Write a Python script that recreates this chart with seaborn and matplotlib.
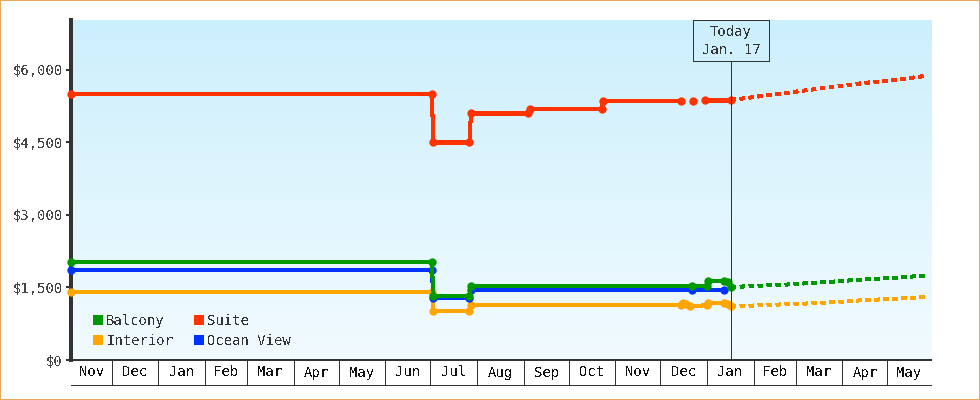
import matplotlib
matplotlib.use("Agg")
import numpy as np
import pandas as pd
import matplotlib.pyplot as plt
import matplotlib.dates as mdates
from matplotlib.patches import Rectangle, Patch
from matplotlib.colors import LinearSegmentedColormap
import seaborn as sns

# ---------------- data ----------------
cabin_colors = {
    "Balcony": "#009900",
    "Suite": "#ff3300",
    "Interior": "#ffa500",
    "Ocean View": "#0033ff",
}
draw_order = ["Interior", "Ocean View", "Balcony", "Suite"]
legend_order = ["Balcony", "Interior", "Suite", "Ocean View"]

suite_dates = ["2021-11-04", "2022-07-02", "2022-07-03", "2022-07-27", "2022-07-28",
               "2022-09-04", "2022-09-05", "2022-10-23", "2022-10-24", "2022-12-15",
               "2022-12-23", "2022-12-31", "2023-01-17"]
suite_prices = [5510, 5510, 4500, 4500, 5100, 5100, 5190, 5190, 5360, 5365,
                5365, 5380, 5380]
suite_runs = [0, 0, 0, 0, 0, 0, 0, 0, 0, 0, 1, 2, 2]

balcony_dates = ["2021-11-04", "2022-07-02", "2022-07-03", "2022-07-27", "2022-07-28",
                 "2022-12-22", "2023-01-01", "2023-01-02", "2023-01-12", "2023-01-15",
                 "2023-01-17"]
balcony_prices = [2020, 2020, 1330, 1330, 1530, 1530, 1530, 1640, 1640, 1610, 1510]

ocean_dates = ["2021-11-04", "2022-07-02", "2022-07-03", "2022-07-27", "2022-07-28",
               "2022-12-22", "2023-01-12"]
ocean_prices = [1860, 1860, 1280, 1280, 1450, 1440, 1440]

interior_dates = ["2021-11-04", "2022-07-02", "2022-07-03", "2022-07-27", "2022-07-28",
                  "2022-12-15", "2022-12-16", "2022-12-18", "2022-12-21", "2023-01-01",
                  "2023-01-02", "2023-01-12", "2023-01-15", "2023-01-17"]
interior_prices = [1400, 1400, 1020, 1020, 1130, 1130, 1175, 1160, 1110, 1135,
                   1170, 1170, 1160, 1110]

forecast_dates = ["2023-01-17", "2023-02-20", "2023-03-18", "2023-04-14",
                  "2023-05-11", "2023-05-27"]
suite_forecast = [5380, 5515, 5620, 5725, 5815, 5880]
balcony_forecast = [1510, 1555, 1605, 1665, 1710, 1750]
interior_forecast = [1110, 1150, 1180, 1235, 1275, 1300]

y_ticks = [0, 1500, 3000, 4500, 6000]
today = "2023-01-17"
today_label = "Today\nJan. 17"
x_start, x_end = "2021-11-04", "2023-05-30"


def frame(name, dates, prices, runs=None):
    return pd.DataFrame({
        "date": pd.to_datetime(dates),
        "price": prices,
        "cabin": name,
        "run": runs if runs is not None else [0] * len(dates),
    })


history = pd.concat([
    frame("Suite", suite_dates, suite_prices, suite_runs),
    frame("Balcony", balcony_dates, balcony_prices),
    frame("Ocean View", ocean_dates, ocean_prices),
    frame("Interior", interior_dates, interior_prices),
], ignore_index=True)

forecast = pd.concat([
    frame("Suite", forecast_dates, suite_forecast),
    frame("Balcony", forecast_dates, balcony_forecast),
    frame("Interior", forecast_dates, interior_forecast),
], ignore_index=True)

# ---------------- style ----------------
sns.set_style("ticks")
plt.rcParams["font.family"] = ["DejaVu Sans Mono", "DejaVu Sans"]
plt.rcParams["text.antialiased"] = False
plt.rcParams["lines.antialiased"] = False
plt.rcParams["patch.antialiased"] = False

W, H = 980, 400
PX = 0.72  # one pixel in points
fig = plt.figure(figsize=(W / 100, H / 100), dpi=100, facecolor="white")
L, R, T, B = 71, 931, 20, 360
ax = fig.add_axes([L / W, 1 - B / H, (R - L) / W, (B - T) / H])
strip = fig.add_axes([L / W, 1 - 385 / H, (R - L) / W, 25 / H], sharex=ax)

xmin, xmax = pd.Timestamp(x_start), pd.Timestamp(x_end)
ymax = 7034

# price history (solid, with markers)
sns.lineplot(data=history, x="date", y="price", hue="cabin", units="run",
             estimator=None, hue_order=draw_order, palette=cabin_colors,
             marker="o", markersize=6, markeredgewidth=0, linewidth=2.2,
             legend=False, ax=ax, zorder=3, clip_on=False)

# forecast (dashed)
sns.lineplot(data=forecast, x="date", y="price", hue="cabin", units="run",
             estimator=None, hue_order=draw_order, palette=cabin_colors,
             linewidth=2.2, linestyle=(0, (1.6, 1.6)), legend=False, ax=ax,
             zorder=3)

ax.set_xlim(xmin, xmax)
ax.set_ylim(0, ymax)
ax.set_autoscale_on(False)

# background gradient
grad = np.linspace(0, 1, 256).reshape(-1, 1)
cmap = LinearSegmentedColormap.from_list("sky", ["#f2fbff", "#cceffc"])
ax.imshow(grad, extent=[0, 1, 0, 1], transform=ax.transAxes, origin="lower",
          aspect="auto", cmap=cmap, zorder=0)

ax.set_xlabel("")
ax.set_ylabel("")
ax.set_yticks(y_ticks)
ax.set_yticklabels([f"${v:,.0f}" for v in y_ticks])
ax.tick_params(axis="y", length=3.8, width=1.5, color="#333333",
               labelsize=10, labelcolor="#444444", pad=2)
ax.tick_params(axis="x", bottom=False, labelbottom=False)
for side in ("top", "right"):
    ax.spines[side].set_visible(False)
ax.spines["left"].set_color("#333333")
ax.spines["left"].set_linewidth(1.5)
ax.spines["bottom"].set_color("#333333")
ax.spines["bottom"].set_linewidth(1.1)

# today marker
span = mdates.date2num(xmax) - mdates.date2num(xmin)
t_frac = (mdates.date2num(pd.Timestamp(today)) - mdates.date2num(xmin)) / span
box_w, box_h = 75.4 / (R - L), 40.7 / (B - T)
ax.add_patch(Rectangle((t_frac - box_w / 2, 1 - box_h), box_w, box_h,
                       transform=ax.transAxes, fill=False, ec="#333333",
                       lw=PX, clip_on=False, zorder=6))
ax.axvline(pd.Timestamp(today), ymin=0, ymax=1 - box_h, color="#333333",
           lw=PX, zorder=6)
ax.text(t_frac, (B - 41) / (B - T), today_label, transform=ax.transAxes,
        ha="center", va="center", fontsize=10, color="#333333",
        linespacing=1.3, zorder=7)

# legend
handles = [Patch(facecolor=cabin_colors[c], edgecolor="none") for c in legend_order]
ax.legend(handles, legend_order, ncol=2, loc="lower left",
          bbox_to_anchor=(0.0256, 0.035), frameon=False, fontsize=10,
          handlelength=0.75, handleheight=0.75, handletextpad=0.2,
          columnspacing=1.5, labelspacing=0.45, borderpad=0,
          borderaxespad=0, labelcolor="#333333")

# month strip under the plot
strip.set_ylim(0, 1)
strip.set_xlim(xmin, xmax)
strip.set_yticks([])
strip.tick_params(axis="x", bottom=False, labelbottom=False)
for side in ("top", "left", "right"):
    strip.spines[side].set_visible(False)
strip.spines["bottom"].set_color("#333333")
strip.spines["bottom"].set_linewidth(PX)
strip.patch.set_alpha(0)

months = pd.date_range("2021-11-01", "2023-06-01", freq="MS")
for m0, m1 in zip(months[:-1], months[1:]):
    a, b = max(m0, xmin), min(m1, xmax)
    if m0 > xmin:
        strip.axvline(m0, color="#333333", lw=PX)
    mid = a + (b - a) / 2
    strip.text(mid, 0.5, m0.strftime("%b"), ha="center", va="center",
               fontsize=10, color="#111111")

# outer frame
fig.patches.append(Rectangle((0, 0), 1, 1, transform=fig.transFigure,
                             fill=False, ec="#e8a860", lw=2 * PX))

fig.savefig("out.png", dpi=100, facecolor="white")
